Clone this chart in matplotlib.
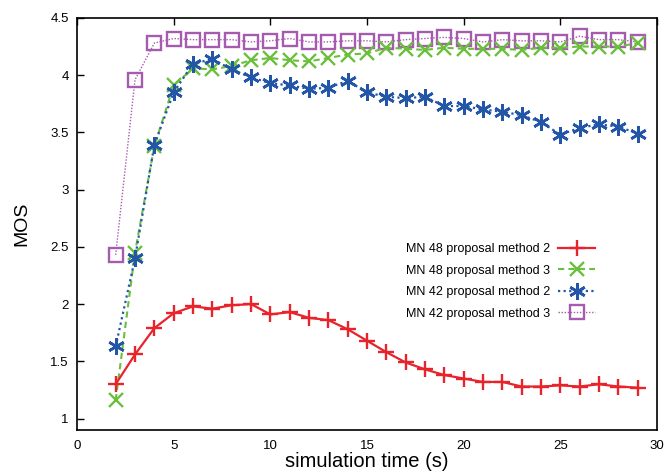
import matplotlib

matplotlib.use("Agg")
import matplotlib.pyplot as plt  # noqa: E402

plt.rcParams["font.family"] = ["Liberation Sans", "DejaVu Sans"]

# simulation time (s)
time_s = list(range(2, 30))

# MOS per series
mn48_m2 = [1.30, 1.56, 1.79, 1.92, 1.98, 1.96, 1.99, 2.00, 1.91, 1.93,
           1.88, 1.86, 1.78, 1.68, 1.58, 1.49, 1.43, 1.38, 1.35, 1.32,
           1.32, 1.28, 1.28, 1.29, 1.28, 1.30, 1.28, 1.27]
mn48_m3 = [1.16, 2.45, 3.38, 3.91, 4.06, 4.05, 4.08, 4.13, 4.15, 4.13,
           4.12, 4.15, 4.18, 4.19, 4.24, 4.23, 4.22, 4.24, 4.23, 4.23,
           4.23, 4.22, 4.24, 4.24, 4.25, 4.25, 4.25, 4.28]
mn42_m2 = [1.63, 2.40, 3.39, 3.85, 4.10, 4.14, 4.05, 3.98, 3.93, 3.91,
           3.88, 3.89, 3.95, 3.85, 3.81, 3.80, 3.81, 3.73, 3.73, 3.70,
           3.68, 3.65, 3.59, 3.48, 3.54, 3.57, 3.55, 3.49]
mn42_m3 = [2.43, 3.96, 4.28, 4.32, 4.31, 4.31, 4.31, 4.29, 4.30, 4.32,
           4.29, 4.29, 4.30, 4.30, 4.29, 4.31, 4.32, 4.33, 4.32, 4.29,
           4.31, 4.30, 4.30, 4.29, 4.34, 4.31, 4.31, 4.29]

labels = ["MN 48 proposal method 2", "MN 48 proposal method 3",
          "MN 42 proposal method 2", "MN 42 proposal method 3"]

fig = plt.figure(figsize=(6.65, 4.71), dpi=100)
ax = fig.add_axes([0.1158, 0.087, 0.8722, 0.875])

ax.plot(time_s, mn48_m2, color="#e8232b", lw=1.6, ls="-",
        marker="+", ms=11, mew=1.7, label=labels[0], zorder=4)
ax.plot(time_s, mn48_m3, color="#6abf3c", lw=1.5, ls=(0, (3, 2)),
        marker="x", ms=10, mew=1.7, label=labels[1], zorder=3)
ax.plot(time_s, mn42_m2, color="#2456a8", lw=1.6, ls=(0, (1, 1.5)),
        marker=(6, 2, 0), ms=12, mew=1.9, label=labels[2], zorder=3)
ax.plot(time_s, mn42_m3, color="#a55bae", lw=1.0, ls=(0, (1, 1.2)),
        marker="s", ms=10, mew=1.7, mfc="none", label=labels[3], zorder=2)

ax.set_xlim(0, 30)
ax.set_ylim(0.9, 4.5)
ax.set_xticks(range(0, 31, 5))
ax.set_yticks([1, 1.5, 2, 2.5, 3, 3.5, 4, 4.5])
ax.set_yticklabels(["1", "1.5", "2", "2.5", "3", "3.5", "4", "4.5"])
ax.tick_params(axis="both", direction="in", labelsize=9.5, length=5,
               width=1.0, bottom=False, top=True, left=True, right=False)
ax.tick_params(axis="x", pad=7)
ax.tick_params(axis="y", pad=6)
for sp in ax.spines.values():
    sp.set_linewidth(1.2)

ax.set_xlabel("simulation time (s)", fontsize=14.5, labelpad=0)
ax.set_ylabel("MOS", fontsize=14, labelpad=14)

ax.legend(loc="upper right", bbox_to_anchor=(0.913, 0.48), frameon=False,
          markerfirst=False, fontsize=9, handlelength=3.0,
          labelspacing=0.75, handletextpad=0.6)

fig.savefig("out.png", dpi=100)
